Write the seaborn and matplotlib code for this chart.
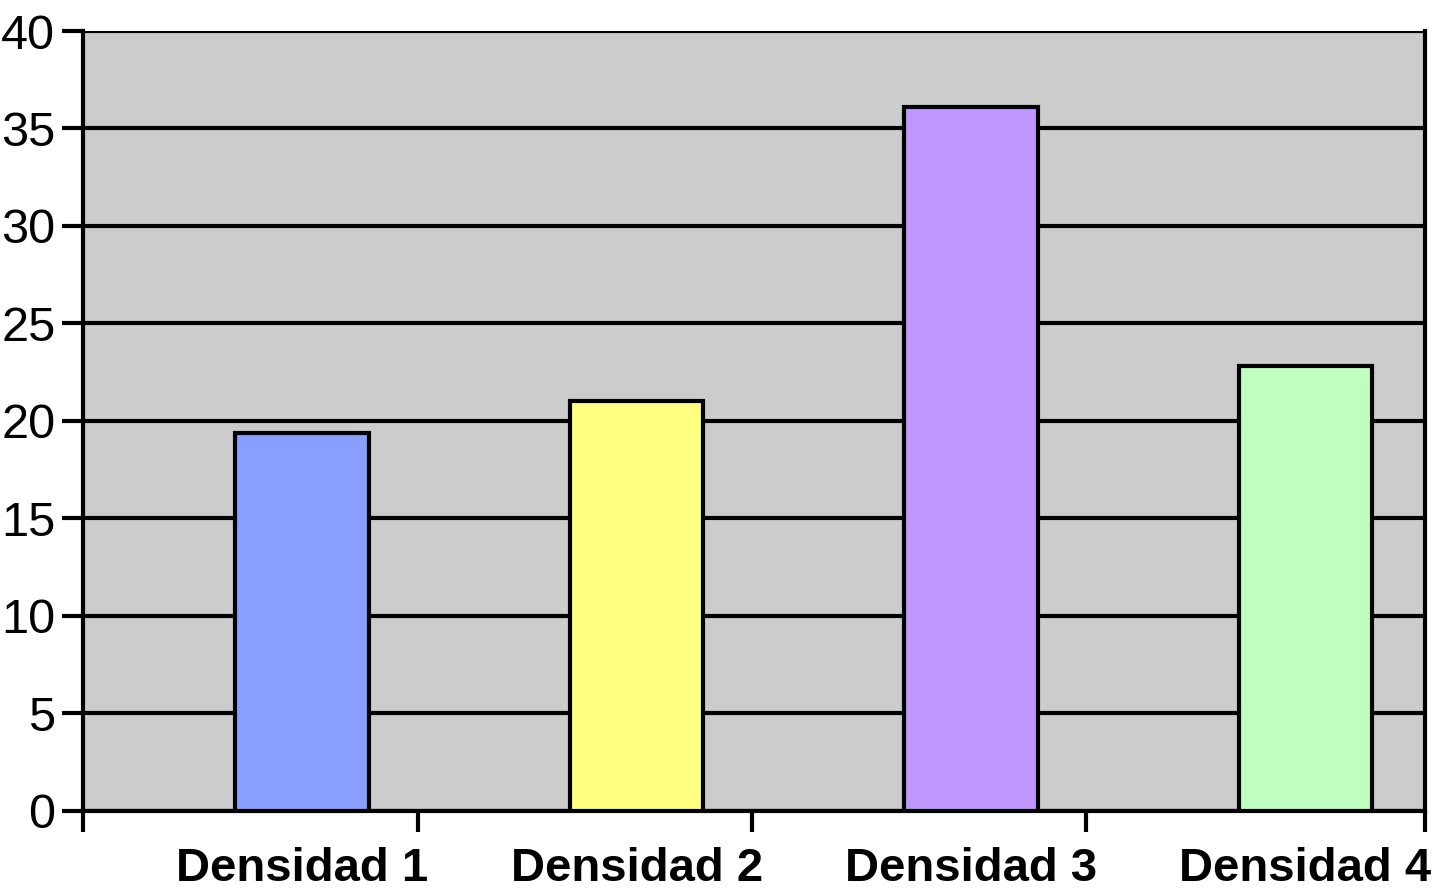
import matplotlib
matplotlib.use("Agg")
import matplotlib.pyplot as plt
import pandas as pd
import seaborn as sns

categories = ["Densidad 1", "Densidad 2", "Densidad 3", "Densidad 4"]
values = [19.4, 21.0, 36.1, 22.8]
colors = ["#889FFF", "#FFFF80", "#BF99FF", "#BFFFBF"]
yticks = [0, 5, 10, 15, 20, 25, 30, 35, 40]

df = pd.DataFrame({"cat": categories, "val": values})

sns.set_style("white")
plt.rcParams["font.family"] = ["Liberation Sans", "DejaVu Sans"]
plt.rcParams["text.color"] = "black"
plt.rcParams["xtick.color"] = "black"
plt.rcParams["ytick.color"] = "black"

fig = plt.figure(figsize=(14.37, 8.96), dpi=100)
ax = fig.add_axes([0.0578, 0.0949, 0.9338, 0.8705])
ax.set_facecolor("#CCCCCC")

sns.barplot(data=df, x="cat", y="val", hue="cat", palette=colors,
            saturation=1, width=0.4, edgecolor="black", linewidth=3,
            legend=False, ax=ax, zorder=3)

ax.set_ylim(0, 40)
ax.set_yticks(yticks)
ax.yaxis.grid(True, color="black", linewidth=3, zorder=1)
ax.set_axisbelow(True)

# category boundaries (the bars sit right of centre in the original)
x_left, x_right = -0.655, 3.357
ax.set_xlim(x_left, x_right)
ax.set_xticks(range(len(categories)))
ax.set_xticklabels(categories, fontsize=34, fontweight="bold")
ax.set_xticks([x_left + k for k in range(4)] + [x_right], minor=True)
ax.tick_params(axis="x", which="major", length=0, pad=26)
ax.tick_params(axis="x", which="minor", length=15, width=3, direction="out",
               bottom=True)
ax.tick_params(axis="y", length=15, width=3, direction="out",
               labelsize=35, pad=5, left=True)
ax.set_xlabel("")
ax.set_ylabel("")

for side in ["left", "right", "bottom"]:
    ax.spines[side].set_visible(True)
    ax.spines[side].set_color("black")
    ax.spines[side].set_linewidth(3)
ax.spines["top"].set_visible(False)

fig.savefig("out.png", dpi=100)
